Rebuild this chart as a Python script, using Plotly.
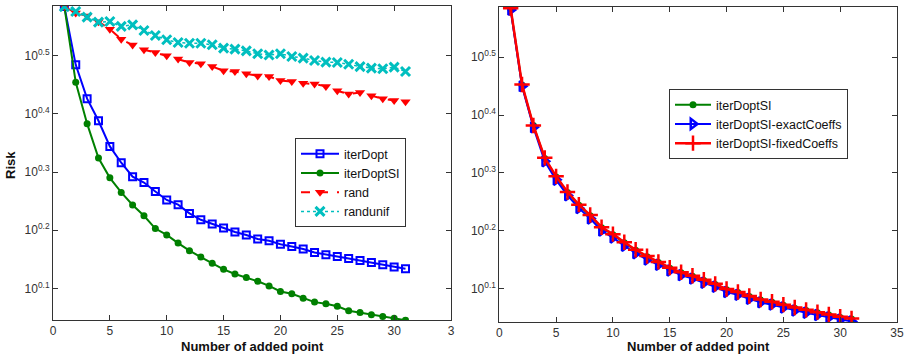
import plotly.graph_objects as go

x_pts = list(range(1, 32))

# log10(Risk)
iterDopt = [0.584, 0.484, 0.426, 0.388, 0.344, 0.316, 0.292, 0.282, 0.2665, 0.252, 0.244,
            0.229, 0.218, 0.211, 0.204, 0.197, 0.192, 0.185, 0.182, 0.176, 0.172, 0.168,
            0.162, 0.158, 0.155, 0.1515, 0.148, 0.1445, 0.1407, 0.137, 0.134]
iterDoptSI = [0.584, 0.454, 0.383, 0.324, 0.290, 0.265, 0.2435, 0.225, 0.203, 0.192, 0.178,
              0.165, 0.154, 0.1435, 0.133, 0.125, 0.119, 0.1125, 0.1045, 0.095, 0.091, 0.0835,
              0.0767, 0.074, 0.0695, 0.062, 0.0588, 0.055, 0.052, 0.049, 0.0457]
rand = [0.584, 0.573, 0.568, 0.558, 0.545, 0.528, 0.518, 0.510, 0.505, 0.4995, 0.494,
        0.488, 0.486, 0.481, 0.474, 0.4725, 0.4686, 0.465, 0.464, 0.457, 0.4555, 0.4526,
        0.451, 0.447, 0.4394, 0.434, 0.4365, 0.431, 0.4257, 0.4227, 0.4205]
randunif = [0.584, 0.5755, 0.566, 0.5573, 0.5584, 0.550, 0.5527, 0.543, 0.5343, 0.527, 0.5223,
            0.521, 0.521, 0.5184, 0.5127, 0.511, 0.508, 0.503, 0.501, 0.503, 0.4983, 0.4955,
            0.4914, 0.4887, 0.488, 0.485, 0.481, 0.4784, 0.4772, 0.480, 0.4725]

# right panel
siR = [0.584, 0.452, 0.382, 0.325, 0.293, 0.266, 0.244, 0.226, 0.205, 0.193, 0.179,
       0.166, 0.155, 0.145, 0.135, 0.127, 0.121, 0.114, 0.107, 0.098, 0.093, 0.086,
       0.080, 0.076, 0.071, 0.066, 0.062, 0.058, 0.054, 0.050, 0.047]
exactCoeffs = [0.582, 0.450, 0.379, 0.320, 0.288, 0.261, 0.239, 0.221, 0.200, 0.188, 0.174,
               0.161, 0.150, 0.141, 0.131, 0.123, 0.117, 0.110, 0.103, 0.094, 0.089, 0.082,
               0.076, 0.072, 0.067, 0.062, 0.058, 0.054, 0.050, 0.046, 0.043]
fixedCoeffs = [0.585, 0.453, 0.382, 0.326, 0.294, 0.267, 0.245, 0.227, 0.206, 0.194, 0.180,
               0.167, 0.156, 0.146, 0.136, 0.128, 0.122, 0.115, 0.108, 0.099, 0.094, 0.087,
               0.081, 0.077, 0.072, 0.067, 0.063, 0.059, 0.055, 0.051, 0.048]

y_tick_exp = [0.1, 0.2, 0.3, 0.4, 0.5]
y_tick_text = ["10<sup>0.1</sup>", "10<sup>0.2</sup>", "10<sup>0.3</sup>", "10<sup>0.4</sup>", "10<sup>0.5</sup>"]
x_ticks = [0, 5, 10, 15, 20, 25, 30, 35]
x_tick_text_left = ["0", "5", "10", "15", "20", "25", "30", "3"]
x_tick_text_right = ["0", "5", "10", "15", "20", "25", "30", "35"]
x_title = "Number of added point"
y_title = "Risk"

def pw(v):
    return [10 ** a for a in v]

BLUE = "#0000ff"
GREEN = "#008000"
RED = "#ff0000"
CYAN = "#00bfbf"

fig = go.Figure()
fig.add_trace(go.Scatter(x=x_pts, y=pw(iterDopt), name="iterDopt", mode="lines+markers",
                         line=dict(color=BLUE, width=2),
                         marker=dict(symbol="square-open", size=7, color=BLUE, line=dict(width=2)),
                         xaxis="x", yaxis="y", legend="legend"))
fig.add_trace(go.Scatter(x=x_pts, y=pw(iterDoptSI), name="iterDoptSI", mode="lines+markers",
                         line=dict(color=GREEN, width=2),
                         marker=dict(symbol="circle", size=7, color=GREEN),
                         xaxis="x", yaxis="y", legend="legend"))
fig.add_trace(go.Scatter(x=x_pts, y=pw(rand), name="rand", mode="lines+markers",
                         line=dict(color=RED, width=2, dash="dash"),
                         marker=dict(symbol="triangle-down", size=9, color=RED),
                         xaxis="x", yaxis="y", legend="legend"))
fig.add_trace(go.Scatter(x=x_pts, y=pw(randunif), name="randunif", mode="lines+markers",
                         line=dict(color=CYAN, width=1.5, dash="dot"),
                         marker=dict(symbol="x-thin", size=9, color=CYAN, line=dict(width=3, color=CYAN)),
                         xaxis="x", yaxis="y", legend="legend"))

fig.add_trace(go.Scatter(x=x_pts, y=pw(siR), name="iterDoptSI", mode="lines+markers",
                         line=dict(color=GREEN, width=2),
                         marker=dict(symbol="circle", size=7, color=GREEN),
                         xaxis="x2", yaxis="y2", legend="legend2"))
fig.add_trace(go.Scatter(x=x_pts, y=pw(exactCoeffs), name="iterDoptSI-exactCoeffs", mode="lines+markers",
                         line=dict(color=BLUE, width=2),
                         marker=dict(symbol="triangle-right-open", size=9, color=BLUE, line=dict(width=2.5)),
                         xaxis="x2", yaxis="y2", legend="legend2"))
fig.add_trace(go.Scatter(x=x_pts, y=pw(fixedCoeffs), name="iterDoptSI-fixedCoeffs", mode="lines+markers",
                         line=dict(color=RED, width=2.5),
                         marker=dict(symbol="cross-thin", size=11, color=RED, line=dict(width=2.5, color=RED)),
                         xaxis="x2", yaxis="y2", legend="legend2"))

axis_common = dict(showgrid=False, zeroline=False, showline=True, linecolor="#333", linewidth=1,
                   mirror="ticks", ticks="inside", ticklen=5, tickcolor="#333", automargin=False,
                   tickfont=dict(family="Liberation Sans, Arial", size=12, color="#333"))

ML, MR, MT, MB = 53, 11, 6, 37
W, H = 908, 359
PW, PH = W - ML - MR, H - MT - MB

def px(x):
    return (x - ML) / PW

def py(y):
    return (H - MB - y) / PH

fig.update_layout(
    width=W, height=H, margin=dict(l=ML, r=MR, t=MT, b=MB, autoexpand=False),
    paper_bgcolor="white", plot_bgcolor="white",
    font=dict(family="Liberation Sans, Arial", size=12, color="#111"),
    xaxis=dict(domain=[0, px(451)], range=[0, 35], tickvals=x_ticks, ticktext=x_tick_text_left,
               anchor="y", **axis_common),
    yaxis=dict(domain=[py(320), 1], type="log", range=[0.046, 0.585],
               tickvals=pw(y_tick_exp), ticktext=y_tick_text, anchor="x", **axis_common),
    xaxis2=dict(domain=[px(499.3), 1], range=[0, 35], tickvals=x_ticks, ticktext=x_tick_text_right,
                anchor="y2", **axis_common),
    yaxis2=dict(domain=[0, py(7)], type="log", range=[0.042, 0.587],
                tickvals=pw(y_tick_exp), ticktext=y_tick_text, anchor="x2", **axis_common),
    legend=dict(x=px(295), y=py(138), xanchor="left", yanchor="top",
                bordercolor="#333", borderwidth=1, bgcolor="white",
                font=dict(size=12.5, color="#111"), tracegroupgap=0, itemwidth=38),
    legend2=dict(x=px(669), y=py(89), xanchor="left", yanchor="top",
                 bordercolor="#333", borderwidth=1, bgcolor="white",
                 font=dict(size=12.5, color="#111"), tracegroupgap=0, itemwidth=36),
    showlegend=True,
    annotations=[
        dict(text="<b>" + x_title + "</b>", x=px(252), y=py(346), xref="paper", yref="paper",
             xanchor="center", yanchor="middle", showarrow=False, font=dict(size=13, color="#111")),
        dict(text="<b>" + x_title + "</b>", x=px(698), y=py(346), xref="paper", yref="paper",
             xanchor="center", yanchor="middle", showarrow=False, font=dict(size=13, color="#111")),
        dict(text="<b>" + y_title + "</b>", x=px(10), y=py(165), xref="paper", yref="paper",
             xanchor="center", yanchor="middle", showarrow=False, textangle=-90,
             font=dict(size=13, color="#111")),
    ],
)

fig.write_html("out.html", config={"displayModeBar": False},
               post_script="document.body.style.margin='0px';")
